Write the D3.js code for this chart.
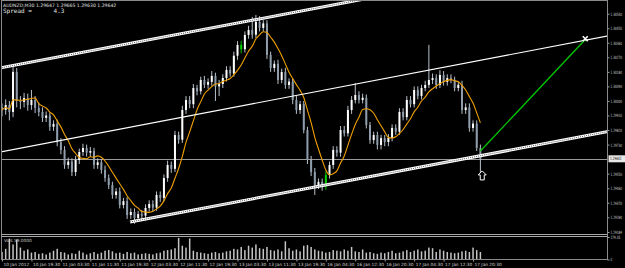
<!DOCTYPE html>
<html>
<head>
<meta charset="utf-8">
<script src="https://cdn.jsdelivr.net/npm/d3@7"></script>
<style>
  html, body { margin: 0; padding: 0; background: #000; }
  svg { display: block; }
</style>
</head>
<body>
<script>
// AUDNZD,M30 - prices kept in points above 1.29000
var base = 1.29;

var opens = [960,944,975,932,1180,1000,994,1018,975,1006,
  957,932,895,910,840,858,745,697,604,625,
  560,635,684,709,680,690,604,620,573,523,
  480,418,440,356,380,294,313,276,300,290,
  338,362,340,418,400,523,604,580,789,760,
  944,1006,980,1080,1060,1130,1100,1118,1155,1090,
  1105,1142,1192,1170,1280,1347,1320,1408,1439,1410,
  1489,1452,1480,1285,1204,1230,1130,1179,1099,1120,
  1006,944,980,820,635,560,480,499,470,542,
  604,697,680,820,800,944,1006,1037,1006,1020,
  851,758,789,728,770,746,771,833,810,932,
  900,1006,980,1068,1031,1080,1099,1130,1142,1099,
  1161,1118,1142,1130,1080,1100,944,960,833,860,
  709];

var highs = [985,1010,1000,1217,1204,1030,1050,1045,1068,1030,
  990,960,935,930,880,885,770,720,650,645,
  660,705,735,730,715,710,645,640,600,545,
  500,460,465,400,405,335,335,320,325,360,
  385,385,440,440,545,630,625,815,810,970,
  1030,1030,1105,1100,1150,1155,1140,1185,1175,1130,
  1165,1215,1215,1305,1370,1372,1430,1465,1520,1532,
  1525,1500,1500,1305,1250,1255,1200,1205,1140,1140,
  1030,1000,1000,840,660,585,520,520,565,625,
  720,720,845,845,970,1030,1110,1060,1045,1040,
  870,810,810,790,790,795,855,855,955,955,
  1030,1030,1090,1090,1100,1125,1347,1170,1165,1190,
  1185,1165,1165,1150,1120,1125,985,985,880,880,
  730];

var lows = [905,915,880,900,960,950,960,940,945,925,
  905,870,870,815,815,720,670,580,580,535,
  535,610,660,655,655,580,580,550,500,455,
  395,395,335,335,270,270,240,255,265,270,
  315,315,320,375,380,500,555,560,735,740,
  920,955,955,1035,1040,1080,1075,1095,1000,1030,
  1080,1120,1150,1150,1255,1295,1300,1385,1385,1390,
  1430,1430,1260,1180,1180,1105,1110,1075,1075,980,
  920,920,800,610,535,418,455,445,450,520,
  580,655,655,780,780,920,985,985,985,830,
  735,735,700,700,720,720,750,790,790,880,
  880,960,960,1010,1010,1060,1080,1105,1075,1080,
  1095,1095,1110,1060,1060,920,920,810,810,690,
  554];

var closes = [944,975,932,1180,1000,994,1018,975,1006,957,
  932,895,910,840,858,745,697,604,625,560,
  635,684,709,680,690,604,620,573,523,480,
  418,440,356,380,294,313,276,300,290,338,
  362,340,418,400,523,604,580,789,760,944,
  1006,980,1080,1060,1130,1100,1118,1155,1090,1105,
  1142,1192,1170,1280,1347,1320,1408,1439,1410,1489,
  1452,1480,1285,1204,1230,1130,1179,1099,1120,1006,
  944,980,820,635,560,480,499,470,542,604,
  697,680,820,800,944,1006,1037,1006,1020,851,
  758,789,728,770,746,771,833,810,932,900,
  1006,980,1068,1031,1080,1099,1130,1142,1099,1161,
  1118,1142,1130,1080,1100,944,960,833,860,709,
  642];

var volumes = [60,85,166,120,160,95,70,80,55,60,
  45,50,40,55,70,85,60,55,40,50,
  45,70,55,40,50,60,45,55,70,75,
  65,50,55,45,60,50,55,40,45,50,
  45,40,50,55,70,75,80,90,172,110,
  95,168,70,60,55,50,45,55,60,50,
  55,65,70,85,80,100,75,110,95,120,
  90,85,100,75,70,80,65,145,90,70,
  80,65,110,115,100,80,70,65,55,60,
  75,70,65,80,70,100,65,60,80,55,
  60,50,45,55,50,60,70,50,55,65,
  75,60,70,80,65,70,95,90,60,80,
  70,60,55,50,55,65,70,60,95,75,
  60];

var greenBars = [65, 88];

var timeLabels = ["10 Jan 2012","10 Jan 19:30","11 Jan 03:30","11 Jan 11:30","11 Jan 19:30",
  "12 Jan 03:30","12 Jan 11:30","12 Jan 19:30","13 Jan 03:30","13 Jan 11:30","13 Jan 19:30",
  "16 Jan 04:30","16 Jan 12:30","16 Jan 20:30","17 Jan 04:30","17 Jan 12:30","17 Jan 20:30"];
var timeTickBars = [0,8,16,24,32,40,48,56,64,72,80,88,96,104,112,120,128];

var priceTicks = [1.30540,1.30450,1.30360,1.30270,1.30180,1.30090,1.30000,1.29910,
  1.29820,1.29730,1.29550,1.29460,1.29370,1.29280,1.29189];
var volTicks = [0, 179.35];
var lastPrice = 1.29642;

// trend objects as [bar index, price]
var upperChannel = [[-1, 1.30202], [131, 1.30771]];
var middleChannel = [[-1, 1.29682], [165, 1.30404]];
var lowerChannel = [[34.8, 1.29251], [165, 1.29812]];
var projection = [[130, 1.29690], [158.5, 1.30380]];
var crossMark = [158.5, 1.30385];
var arrowMark = [130.5, 1.29536];

var W = 625, H = 268;
var right = 607.5, paneBottom = 234, volTop = 237, volBottom = 259.5;
var axisFont = "'DejaVu Sans Condensed', 'DejaVu Sans', sans-serif";

var svg = d3.select("body").append("svg")
  .attr("width", W).attr("height", H)
  .style("background", "#000");

var x = d3.scaleLinear().domain([0, 130]).range([2, 480.4]);
var y = d3.scaleLinear().domain([1.29189, 1.30540]).range([232, 13.7]);
var vy = d3.scaleLinear().domain([0, 179.35]).range([volBottom, volTop]);

var bars = closes.map(function(c, i) {
  return {
    i: i,
    o: base + opens[i] / 1e5,
    h: base + highs[i] / 1e5,
    l: base + lows[i] / 1e5,
    c: base + c / 1e5,
    v: volumes[i]
  };
});

svg.append("clipPath").attr("id", "pane")
  .append("rect").attr("x", 1.5).attr("y", 1).attr("width", right - 1.5).attr("height", paneBottom - 1);

var pane = svg.append("g").attr("clip-path", "url(#pane)");

// current price line
pane.append("line")
  .attr("x1", 0).attr("x2", right)
  .attr("y1", Math.round(y(lastPrice)) + 0.5).attr("y2", Math.round(y(lastPrice)) + 0.5)
  .attr("stroke", "#9a9a9a").attr("stroke-width", 1);

// candles
pane.selectAll(".wick").data(bars).enter().append("line")
  .attr("x1", d => x(d.i)).attr("x2", d => x(d.i))
  .attr("y1", d => y(d.h)).attr("y2", d => y(d.l))
  .attr("stroke", d => greenBars.indexOf(d.i) >= 0 ? "#00c000" : "#b8c2cc")
  .attr("stroke-width", 1);

pane.selectAll(".body").data(bars).enter().append("rect")
  .attr("x", d => x(d.i) - 1)
  .attr("width", 2)
  .attr("y", d => y(Math.max(d.o, d.c)))
  .attr("height", d => Math.max(1, Math.abs(y(d.o) - y(d.c))))
  .attr("fill", function(d) {
    if (greenBars.indexOf(d.i) >= 0) return "#00d000";
    return d.c >= d.o ? "#ffffff" : "#8e9cab";
  });

// moving average (orange)
var maPeriod = 7;
var ma = closes.map(function(c, i) {
  var w = closes.slice(Math.max(0, i - maPeriod + 1), i + 1);
  return { i: i, p: base + d3.mean(w) / 1e5 };
});
pane.append("path").datum(ma)
  .attr("fill", "none")
  .attr("stroke", "#f0a000")
  .attr("stroke-width", 1.1)
  .attr("d", d3.line().x(d => x(d.i)).y(d => y(d.p)).curve(d3.curveMonotoneX));

// channel lines
var seg = d3.line().x(d => x(d[0])).y(d => y(d[1]));

function doubleLine(pts) {
  pane.append("path").attr("d", seg(pts))
    .attr("stroke", "#ffffff").attr("stroke-width", 3).attr("fill", "none");
  pane.append("path").attr("d", seg(pts))
    .attr("stroke", "#5a5a5a").attr("stroke-width", 1).attr("stroke-dasharray", "1,1").attr("fill", "none");
}
doubleLine(upperChannel);
doubleLine(lowerChannel);
pane.append("path").attr("d", seg(middleChannel))
  .attr("stroke", "#ffffff").attr("stroke-width", 1.2).attr("fill", "none");

// projection line
pane.append("path").attr("d", seg(projection))
  .attr("stroke", "#00c800").attr("stroke-width", 1.3).attr("fill", "none");

// cross marker
var cx = x(crossMark[0]), cy = y(crossMark[1]);
pane.append("path")
  .attr("d", "M" + (cx - 2.5) + "," + (cy - 2.5) + "L" + (cx + 2.5) + "," + (cy + 2.5) +
    "M" + (cx + 2.5) + "," + (cy - 2.5) + "L" + (cx - 2.5) + "," + (cy + 2.5))
  .attr("stroke", "#ffffff").attr("stroke-width", 1.6);

// up arrow
var ax = x(arrowMark[0]), ay = y(arrowMark[1]);
pane.append("path")
  .attr("d", "M" + ax + "," + (ay - 5) + "l4,4h-2v5h-4v-5h-2z")
  .attr("fill", "#000").attr("stroke", "#ffffff").attr("stroke-width", 1);

// volumes
svg.selectAll(".vol").data(bars).enter().append("rect")
  .attr("x", d => x(d.i) - 0.75)
  .attr("width", 1.5)
  .attr("y", d => vy(d.v))
  .attr("height", d => volBottom - vy(d.v))
  .attr("fill", "#c4c4c4");

// frame and pane separator
svg.append("rect").attr("x", 1.5).attr("y", 0.5).attr("width", right - 1.5).attr("height", volBottom - 0.5)
  .attr("fill", "none").attr("stroke", "#8a8a8a");
svg.append("line").attr("x1", 1.5).attr("x2", right).attr("y1", paneBottom + 0.5).attr("y2", paneBottom + 0.5)
  .attr("stroke", "#a8a8a8");
svg.append("line").attr("x1", 1.5).attr("x2", right).attr("y1", paneBottom + 2.5).attr("y2", paneBottom + 2.5)
  .attr("stroke", "#a8a8a8");

// price axis
var yAxis = svg.append("g").attr("transform", "translate(" + right + ",0)")
  .call(d3.axisRight(y).tickValues(priceTicks).tickSize(2).tickPadding(1).tickFormat(d3.format(".5f")));
var vAxis = svg.append("g").attr("transform", "translate(" + right + ",0)")
  .call(d3.axisRight(vy).tickValues(volTicks).tickSize(2).tickPadding(1)
    .tickFormat(d => d === 0 ? "0" : d.toFixed(2)));
[yAxis, vAxis].forEach(function(g) {
  g.select(".domain").remove();
  g.selectAll("line").attr("stroke", "#9a9a9a");
  g.selectAll("text").attr("fill", "#d0d0d0")
    .style("font-family", axisFont).style("font-size", "4.4px")
    .attr("textLength", function() { return this.textContent.length * 1.65; })
    .attr("lengthAdjust", "spacingAndGlyphs");
});

// last price label
var ly = y(lastPrice);
svg.append("rect").attr("x", right + 1).attr("y", ly - 3.5).attr("width", W - right).attr("height", 7)
  .attr("fill", "#e8e8e8");
svg.append("text").attr("x", right + 2.5).attr("y", ly + 1.6)
  .attr("fill", "#000").style("font-family", axisFont).style("font-size", "4.4px")
  .attr("textLength", 11.5).attr("lengthAdjust", "spacingAndGlyphs")
  .text(d3.format(".5f")(lastPrice));

// time axis
var xAxis = svg.append("g").attr("transform", "translate(0," + volBottom + ")")
  .call(d3.axisBottom(x).tickValues(timeTickBars).tickSize(2)
    .tickFormat((d, i) => timeLabels[i]));
xAxis.select(".domain").remove();
xAxis.selectAll("line").attr("stroke", "#9a9a9a");
xAxis.selectAll("text").attr("fill", "#d0d0d0").attr("text-anchor", "start")
  .attr("dx", "1").attr("dy", "0.4em")
  .style("font-family", "'DejaVu Sans', sans-serif").style("font-size", "4.3px");

// header texts
svg.append("text").attr("x", 3).attr("y", 7)
  .attr("fill", "#e0e0e0").style("font-family", "'DejaVu Sans', sans-serif").style("font-size", "4.6px")
  .text("AUDNZD,M30  1.29647 1.29665 1.29630 1.29642");
svg.append("text").attr("x", 3).attr("y", 13)
  .attr("fill", "#e0e0e0").style("font-family", "'DejaVu Sans Mono', monospace").style("font-size", "6px")
  .attr("xml:space", "preserve").style("white-space", "pre")
  .text("Spread =      4.3");
svg.append("text").attr("x", 4).attr("y", 242)
  .attr("fill", "#c8c8c8").style("font-family", "'DejaVu Sans', sans-serif").style("font-size", "4.3px")
  .text("Vols 59.0000");
</script>
</body>
</html>
